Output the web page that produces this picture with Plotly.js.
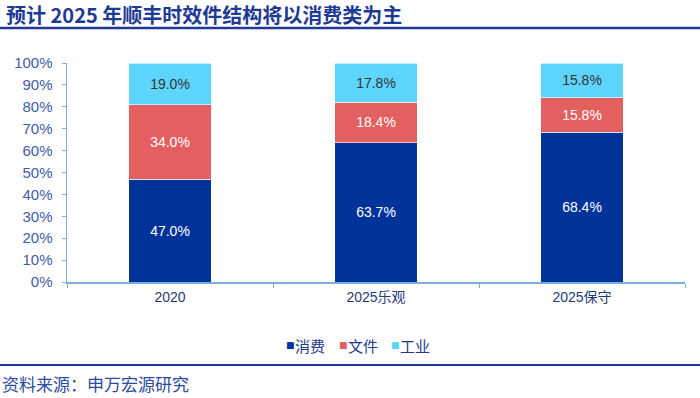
<!DOCTYPE html>
<html><head><meta charset="utf-8">
<script src="https://cdn.plot.ly/plotly-3.0.1.min.js"></script>
<style>body{margin:0;padding:0;background:#fff}#c{width:700px;height:398px}</style>
</head><body><div id="c"></div>
<script>
const categories = ["2020", "2025乐观", "2025保守"];
const consumer = [47.0, 63.7, 68.4];
const document_ = [34.0, 18.4, 15.8];
const industrial = [19.0, 17.8, 15.8];
const seriesNames = ["消费", "文件", "工业"];
const yTickVals = [0,10,20,30,40,50,60,70,80,90,100];
const yTickText = yTickVals.map(v => v + "%");

const colors = ["#003399", "#E45F5F", "#5DD5FF"];
const textColors = ["#FFFFFF", "#FFFFFF", "#333333"];
const vals = [consumer, document_, industrial];

const traces = vals.map((v, i) => ({
  type: "bar", x: categories, y: v, name: seriesNames[i],
  marker: {color: colors[i], line: {color: "#FFFFFF", width: 0.6}},
  width: 0.4,
  text: v.map(d => d.toFixed(1) + "%"),
  textposition: "inside", insidetextanchor: "middle",
  textfont: {family: "Liberation Sans, Arial, sans-serif", size: 14, color: textColors[i]},
  hoverinfo: "skip"
}));

const PW = 618, PH = 219;
// legend drawn as text annotations
const legX = [284, 337, 389];
const legendAnn = [];
seriesNames.forEach((n, i) => {
  legendAnn.push({text: "■", xref: "paper", yref: "paper", x: (legX[i] - 67) / PW, y: -(345 - 282) / PH,
    xanchor: "left", yanchor: "middle", showarrow: false,
    font: {family: "DejaVu Sans, sans-serif", size: 9, color: colors[i]}});
  legendAnn.push({text: n, xref: "paper", yref: "paper", x: (legX[i] + 9 - 67) / PW, y: -(345 - 282) / PH,
    xanchor: "left", yanchor: "middle", showarrow: false,
    font: {family: "Noto Sans CJK SC, sans-serif", size: 15, color: "#1F3A8A"}});
});

const layout = {
  width: 700, height: 398,
  barmode: "stack",
  margin: {l: 67, r: 15, t: 63, b: 116},
  paper_bgcolor: "#fff", plot_bgcolor: "#fff",
  showlegend: false,
  xaxis: {type: "category", range: [-0.5, 2.5], showline: true, linecolor: "#7BAEE0", linewidth: 1.5,
    ticks: "outside", tickson: "boundaries", ticklen: 4, tickcolor: "#7BAEE0",
    showgrid: false, zeroline: false, ticklabelstandoff: 2,
    tickfont: {family: "Liberation Sans, Noto Sans CJK SC, sans-serif", size: 14, color: "#1F3A7A"}},
  yaxis: {range: [0, 100], tickvals: yTickVals, ticktext: yTickText,
    showline: true, linecolor: "#7BAEE0", linewidth: 1.5, ticks: "outside", ticklen: 4,
    tickcolor: "#7BAEE0", showgrid: false, zeroline: false, ticklabelstandoff: 6,
    tickfont: {family: "Liberation Sans, Arial, sans-serif", size: 15, color: "#3F5BA9"}},
  shapes: [
    {type: "line", xref: "paper", yref: "paper", x0: -67/PW, x1: 1 + 15/PW, y0: 1 + 35/PH, y1: 1 + 35/PH,
      line: {color: "#1F3A93", width: 2.5}},
    {type: "line", xref: "paper", yref: "paper", x0: -67/PW, x1: 1 + 15/PW, y0: -83/PH, y1: -83/PH,
      line: {color: "#1F3A93", width: 2}}
  ],
  annotations: [
    {text: "<b>预计 2025 年顺丰时效件结构将以消费类为主</b>", xref: "paper", yref: "paper",
      x: -63/PW, y: 1 + 49/PH, xanchor: "left", yanchor: "middle", showarrow: false,
      font: {family: "Noto Sans CJK SC, sans-serif", size: 20, color: "#1F3A93"}},
    {text: "资料来源：申万宏源研究", xref: "paper", yref: "paper",
      x: -67/PW, y: -101/PH, xanchor: "left", yanchor: "middle", showarrow: false,
      font: {family: "Noto Sans CJK SC, sans-serif", size: 17, color: "#2E4A9E"}}
  ].concat(legendAnn)
};

Plotly.newPlot("c", traces, layout, {displayModeBar: false, staticPlot: true});
</script></body></html>
